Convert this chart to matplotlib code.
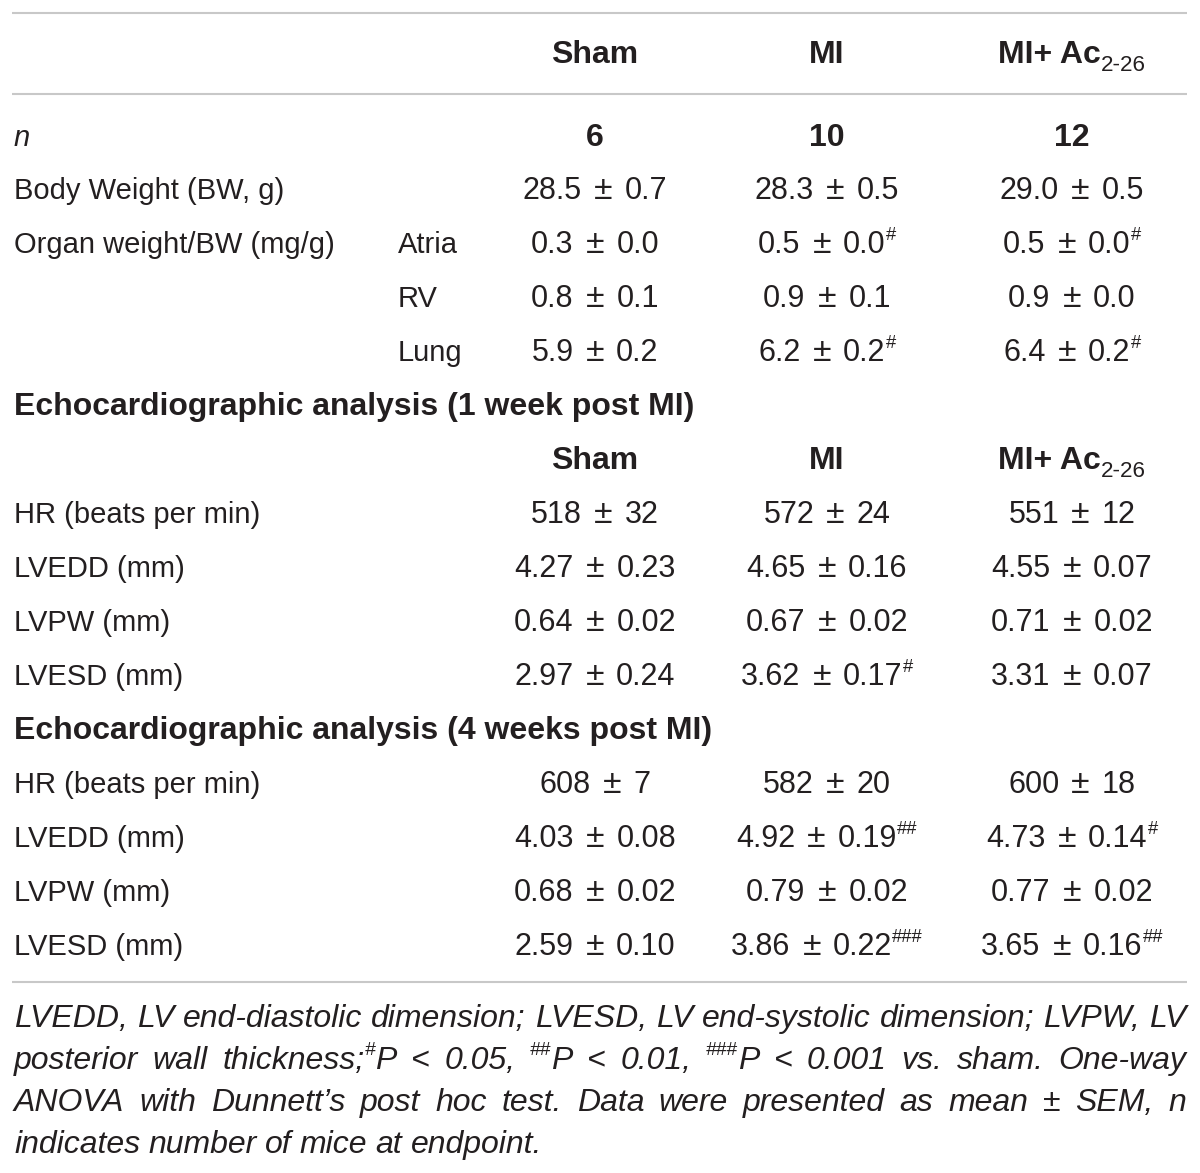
import matplotlib
matplotlib.use("Agg")
import matplotlib.pyplot as plt

# ---- table data ----
groups = ["Sham", "MI", "MI+ Ac"]
group_sub = ["", "", "2-26"]
n_mice = [6, 10, 12]

bw_mean = [28.5, 28.3, 29.0]
bw_sem = [0.7, 0.5, 0.5]
bw_sig = [0, 0, 0]

organ_labels = ["Atria", "RV", "Lung"]
atria_mean = [0.3, 0.5, 0.5]
atria_sem = [0.0, 0.0, 0.0]
atria_sig = [0, 1, 1]
rv_mean = [0.8, 0.9, 0.9]
rv_sem = [0.1, 0.1, 0.0]
rv_sig = [0, 0, 0]
lung_mean = [5.9, 6.2, 6.4]
lung_sem = [0.2, 0.2, 0.2]
lung_sig = [0, 1, 1]

echo_labels = ["HR (beats per min)", "LVEDD (mm)", "LVPW (mm)", "LVESD (mm)"]
echo_decimals = [0, 2, 2, 2]

wk1_mean = [[518, 572, 551], [4.27, 4.65, 4.55], [0.64, 0.67, 0.71], [2.97, 3.62, 3.31]]
wk1_sem = [[32, 24, 12], [0.23, 0.16, 0.07], [0.02, 0.02, 0.02], [0.24, 0.17, 0.07]]
wk1_sig = [[0, 0, 0], [0, 0, 0], [0, 0, 0], [0, 1, 0]]

wk4_mean = [[608, 582, 600], [4.03, 4.92, 4.73], [0.68, 0.79, 0.77], [2.59, 3.86, 3.65]]
wk4_sem = [[7, 20, 18], [0.08, 0.19, 0.14], [0.02, 0.02, 0.02], [0.10, 0.22, 0.16]]
wk4_sig = [[0, 0, 0], [0, 2, 1], [0, 0, 0], [0, 3, 2]]

section_titles = ["Echocardiographic analysis (1 week post MI)",
                  "Echocardiographic analysis (4 weeks post MI)"]

footnote = [
    [[("LVEDD,", "n")], [("LV", "n")], [("end-diastolic", "n")], [("dimension;", "n")],
     [("LVESD,", "n")], [("LV", "n")], [("end-systolic", "n")], [("dimension;", "n")],
     [("LVPW,", "n")], [("LV", "n")]],
    [[("posterior", "n")], [("wall", "n")], [("thickness;", "n"), ("#", "sup"), ("P", "n")],
     [("<", "n")], [("0.05,", "n")], [("##", "sup"), ("P", "n")], [("<", "n")], [("0.01,", "n")],
     [("###", "sup"), ("P", "n")], [("<", "n")], [("0.001", "n")], [("vs.", "n")],
     [("sham.", "n")], [("One-way", "n")]],
    [[(w, "n")] for w in "ANOVA with Dunnett\u2019s post hoc test. Data were presented as mean \u00b1 SEM, n".split(" ")],
    [[(w, "n")] for w in "indicates number of mice at endpoint.".split(" ")],
]

# ---- layout ----
W, H = 1200, 1173
FONT = "Liberation Sans"
FS_LAB = 21
FS_VAL = 22
FS_BOLD = 23
FS_NOTE = 23
TXT = "#231f20"
LINE = "#c8c8c8"
LEFT = 14
RIGHT = 1186
COLX = [595, 827, 1072]
SUBX = 398

fig = plt.figure(figsize=(W / 100, H / 100), dpi=100)
ax = fig.add_axes([0, 0, 1, 1])
ax.set_xlim(0, W)
ax.set_ylim(H, 0)
ax.axis("off")
renderer = fig.canvas.get_renderer()


def run(x, y, segs, size, weight="normal", style="normal", draw=True):
    """draw a run of (text, kind) segments from x; returns total width"""
    cx = x
    for txt, kind in segs:
        if kind == "gap":
            cx += txt * size
            continue
        s, dy, wt = size, 0, weight
        if kind == "sup":
            s = size * 0.6
            dy = -size * 0.6
        elif kind == "sub":
            s = size * 0.7
            dy = size * 0.36
            wt = "normal"
        elif kind == "pm":
            s = size * 1.1
        t = ax.text(cx, y + dy, txt, fontsize=s, fontweight=wt, fontstyle=style,
                    family=FONT, color=TXT, ha="left", va="baseline")
        w = t.get_window_extent(renderer).width
        if not draw:
            t.remove()
        cx += w
    return cx - x


def centered(xc, y, segs, size=FS_VAL, weight="normal"):
    w = run(0, y, segs, size, weight, draw=False)
    run(xc - w / 2, y, segs, size, weight)


def cell(mean, sem, dec, sig):
    segs = [(f"{mean:.{dec}f}", "n"), (0.55, "gap"), ("\u00b1", "pm"), (0.55, "gap"),
            (f"{sem:.{dec}f}", "n")]
    if sig:
        segs.append(("#" * sig, "sup"))
    return segs


def label(x, y, s, size=FS_LAB, weight="normal", style="normal"):
    ax.text(x, y, s, fontsize=size, fontweight=weight, fontstyle=style, family=FONT,
            color=TXT, ha="left", va="baseline")


def header_row(y):
    for xc, g, sub in zip(COLX, groups, group_sub):
        segs = [(g, "n")]
        if sub:
            segs.append((sub, "sub"))
        centered(xc, y, segs, size=FS_BOLD, weight="bold")


def hline(y):
    ax.plot([12, 1187], [y, y], color=LINE, lw=1.5, solid_capstyle="butt")


hline(13)
header_row(63)
hline(94)

label(LEFT, 146, "n", style="italic")
for xc, v in zip(COLX, n_mice):
    centered(xc, 146, [(str(v), "n")], size=FS_BOLD, weight="bold")

label(LEFT, 199, "Body Weight (BW, g)")
for i, xc in enumerate(COLX):
    centered(xc, 199, cell(bw_mean[i], bw_sem[i], 1, bw_sig[i]))

label(LEFT, 253, "Organ weight/BW (mg/g)")
organ_means = [atria_mean, rv_mean, lung_mean]
organ_sems = [atria_sem, rv_sem, lung_sem]
organ_sigs = [atria_sig, rv_sig, lung_sig]
for r in range(3):
    y = 253 + 54 * r
    label(SUBX, y, organ_labels[r])
    for i, xc in enumerate(COLX):
        centered(xc, y, cell(organ_means[r][i], organ_sems[r][i], 1, organ_sigs[r][i]))

label(LEFT, 415, section_titles[0], size=FS_BOLD, weight="bold")
header_row(469)
for r in range(4):
    y = 523 + 54 * r
    label(LEFT, y, echo_labels[r])
    for i, xc in enumerate(COLX):
        centered(xc, y, cell(wk1_mean[r][i], wk1_sem[r][i], echo_decimals[r], wk1_sig[r][i]))

label(LEFT, 739, section_titles[1], size=FS_BOLD, weight="bold")
for r in range(4):
    y = 793 + 54 * r
    label(LEFT, y, echo_labels[r])
    for i, xc in enumerate(COLX):
        centered(xc, y, cell(wk4_mean[r][i], wk4_sem[r][i], echo_decimals[r], wk4_sig[r][i]))

hline(982)

# footnote, justified except the last line
for k, words in enumerate(footnote):
    y = 1027 + 42 * k
    widths = [run(0, y, wd, FS_NOTE, style="italic", draw=False) for wd in words]
    if k < len(footnote) - 1:
        gap = (RIGHT - LEFT - sum(widths)) / (len(words) - 1)
    else:
        gap = FS_NOTE * 0.36
    x = LEFT
    for wd, w in zip(words, widths):
        run(x, y, wd, FS_NOTE, style="italic")
        x += w + gap

fig.savefig("out.png", dpi=100)
